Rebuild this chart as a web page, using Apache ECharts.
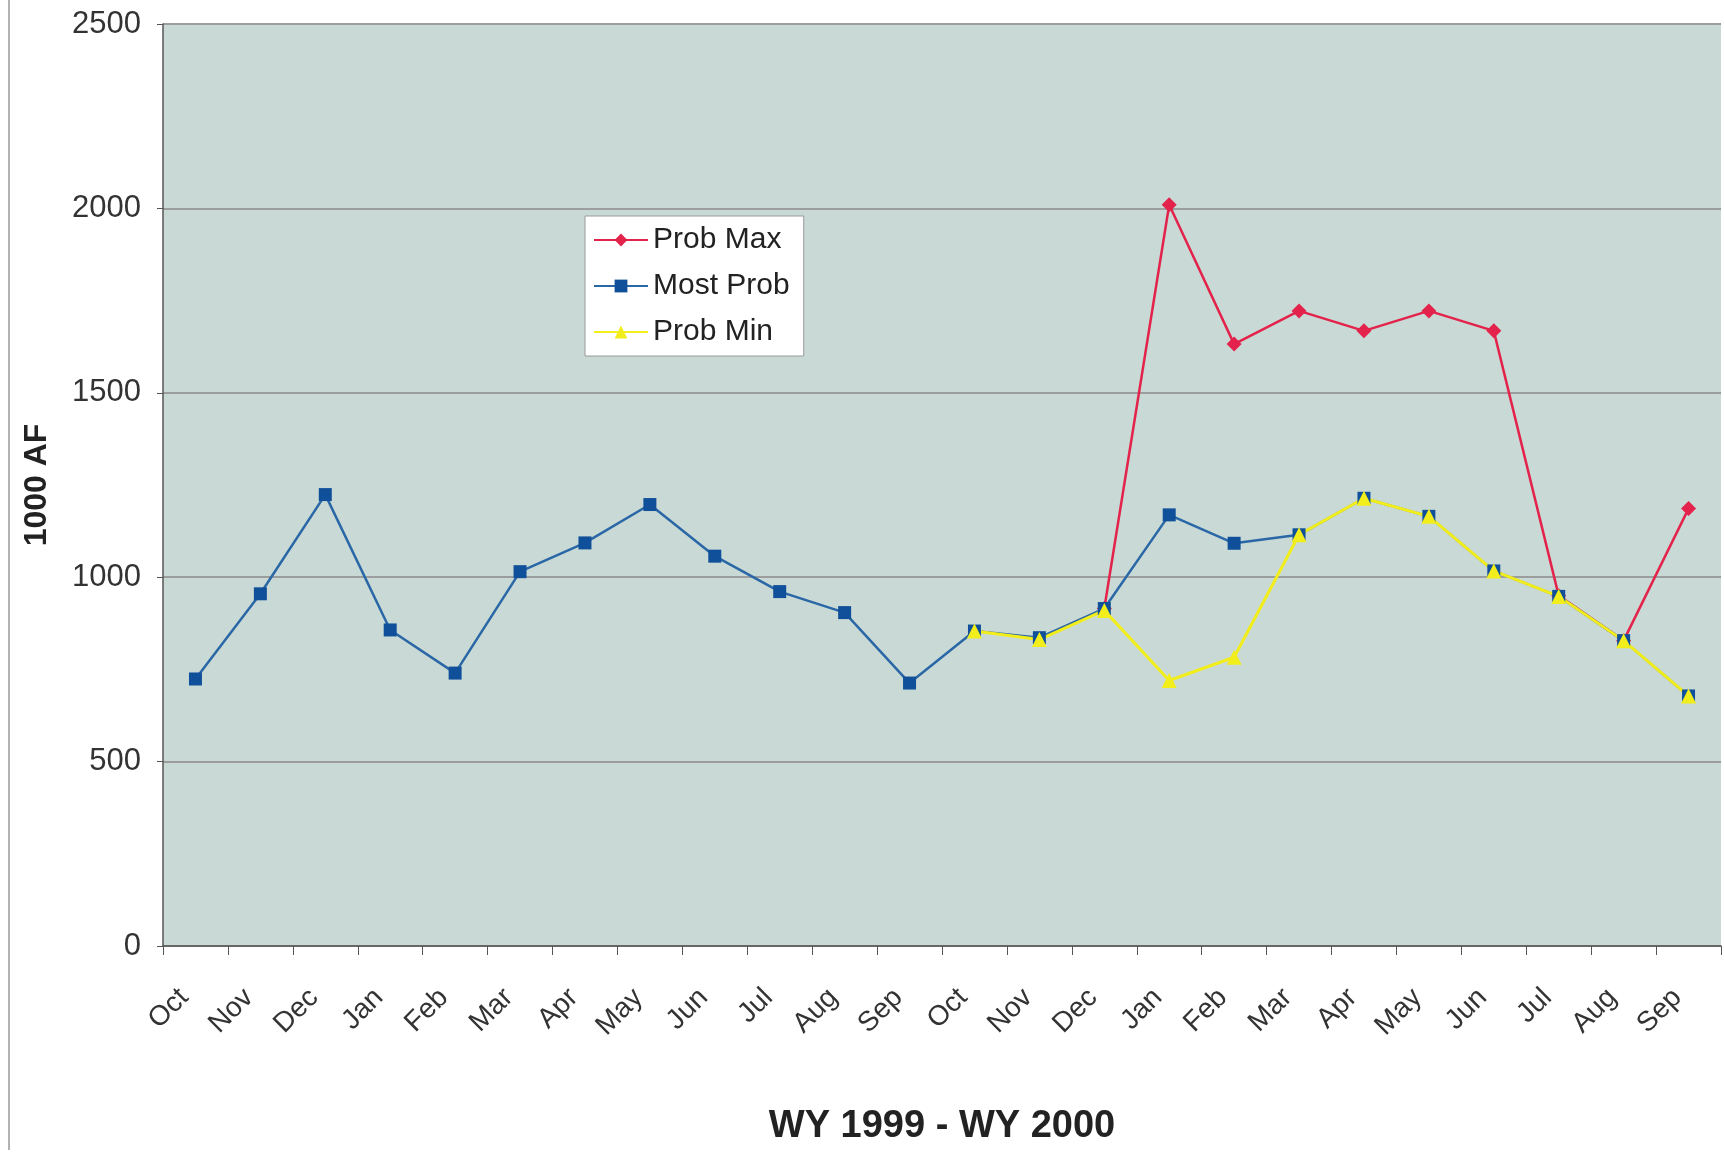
<!DOCTYPE html>
<html>
<head>
<meta charset="utf-8">
<script src="https://cdn.jsdelivr.net/npm/echarts@6/dist/echarts.min.js"></script>
<style>
html,body{margin:0;padding:0;background:#fff;}
#chart{width:1724px;height:1157px;}
</style>
</head>
<body>
<div id="chart"></div>
<script>
const categories = ['Oct','Nov','Dec','Jan','Feb','Mar','Apr','May','Jun','Jul','Aug','Sep',
                    'Oct','Nov','Dec','Jan','Feb','Mar','Apr','May','Jun','Jul','Aug','Sep'];
const probMax = [null,null,null,null,null,null,null,null,null,null,null,null,
                 null,null,915,2010,1632,1722,1668,1722,1668,950,828,1186];
const mostProb = [724,955,1224,857,740,1015,1093,1197,1057,961,904,713,
                  854,836,915,1169,1092,1115,1214,1165,1017,948,828,678];
const probMin = [null,null,null,null,null,null,null,null,null,null,null,null,
                 854,831,910,720,783,1115,1214,1165,1017,948,828,678];
const yTicks = [0,500,1000,1500,2000,2500];

const chart = echarts.init(document.getElementById('chart'));
const font = 'Liberation Sans, Arial, sans-serif';
chart.setOption({
  animation: false,
  backgroundColor: '#ffffff',
  textStyle: {fontFamily: font},
  grid: {left: 163, right: 3, top: 24, bottom: 211, show: true, backgroundColor: '#c9d9d5', borderWidth: 0},
  legend: {
    left: 585, top: 216, orient: 'vertical',
    backgroundColor: '#ffffff', borderColor: '#9a9a9a', borderWidth: 1,
    padding: [9, 14, 9, 8], itemGap: 16, itemWidth: 54, itemHeight: 16,
    textStyle: {fontSize: 30, color: '#222', fontFamily: font},
    data: ['Prob Max', 'Most Prob', 'Prob Min']
  },
  xAxis: {
    type: 'category', data: categories, boundaryGap: true,
    name: 'WY 1999 - WY 2000', nameLocation: 'middle', nameGap: 162,
    nameTextStyle: {fontSize: 38, fontWeight: 'bold', color: '#222', fontFamily: font},
    axisLine: {show: true, lineStyle: {color: '#555', width: 1.5}},
    axisTick: {show: true, length: 9, lineStyle: {color: '#555'}},
    axisLabel: {rotate: 45, fontSize: 28, color: '#333', margin: 36, padding: [0, 16, 0, 0], fontFamily: font}
  },
  yAxis: {
    type: 'value', min: 0, max: 2500, interval: 500,
    name: '1000 AF', nameLocation: 'middle', nameGap: 110,
    nameTextStyle: {fontSize: 32, fontWeight: 'bold', color: '#222', fontFamily: font},
    axisLine: {show: true, lineStyle: {color: '#555', width: 1.5}},
    axisTick: {show: true, length: 6, lineStyle: {color: '#555'}},
    axisLabel: {fontSize: 31, color: '#333', margin: 22, fontFamily: font,
      formatter: v => yTicks.includes(v) ? String(v) : ''},
    splitLine: {show: true, lineStyle: {color: '#9c9e9e', width: 2}}
  },
  graphic: [
    {type: 'line', shape: {x1: 9, y1: 0, x2: 9, y2: 1150}, style: {stroke: '#999', lineWidth: 1.5}}
  ],
  series: [
    {name: 'Prob Max', type: 'line', data: probMax, connectNulls: false,
     symbol: 'diamond', symbolSize: 15,
     itemStyle: {color: '#e3234b'}, lineStyle: {color: '#e3234b', width: 2.5}},
    {name: 'Most Prob', type: 'line', data: mostProb,
     symbol: 'rect', symbolSize: 13,
     itemStyle: {color: '#10509a'}, lineStyle: {color: '#2a67a6', width: 2.5}},
    {name: 'Prob Min', type: 'line', data: probMin,
     symbol: 'triangle', symbolSize: 15,
     itemStyle: {color: '#f2ee1c'}, lineStyle: {color: '#f2ee1c', width: 3}}
  ]
});
</script>
</body>
</html>
